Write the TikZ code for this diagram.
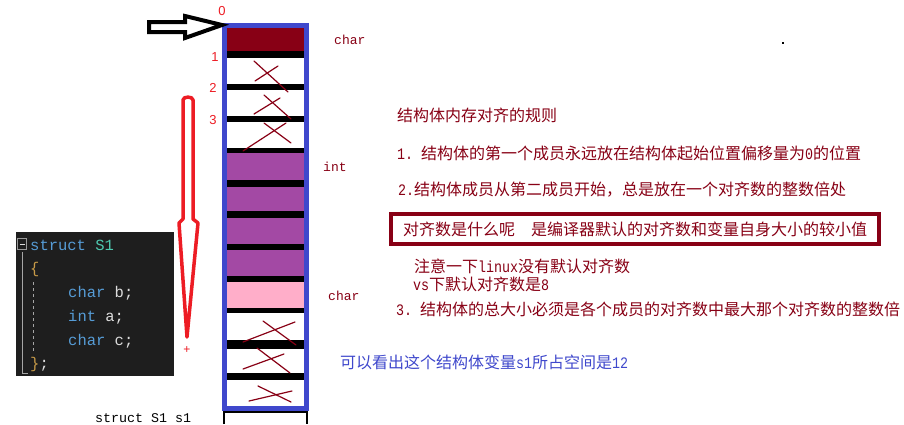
\documentclass[tikz,border=0pt]{standalone}
\usepackage{fontspec}
\newfontfamily\cjk{Noto Sans CJK SC}
\newfontfamily\mono{Liberation Mono}
\newfontfamily\monon[FakeStretch=0.833]{Liberation Mono}
\newfontfamily\lsans{Liberation Sans}
\definecolor{pdred}{HTML}{880015}
\definecolor{ppurple}{HTML}{A349A4}
\definecolor{ppink}{HTML}{FFAEC9}
\definecolor{pblue}{HTML}{3F48CC}
\definecolor{pred}{HTML}{ED1C24}
\definecolor{codebg}{HTML}{1E1E1E}
\definecolor{kw}{HTML}{569CD6}
\definecolor{typ}{HTML}{4EC9B0}
\definecolor{brace}{HTML}{C89B48}
\definecolor{plain}{HTML}{DCDCDC}
\newcommand\hw[1]{{\fontsize{16}{18}\monon #1}}
\tikzset{
  cjktext/.style={anchor=west, inner sep=0pt, font=\fontsize{16}{18}\cjk, text=pdred},
  numlab/.style={inner sep=0pt, font=\fontsize{13}{14}\lsans, text=pred},
  typelab/.style={anchor=west, inner sep=0pt, font=\fontsize{13}{14}\mono, text=pdred},
  codeline/.style={anchor=west, inner sep=0pt, font=\fontsize{15.5}{18}\mono, text=plain},
  band/.style={fill=black},
  cross/.style={pdred, line width=1.2pt, line cap=round},
}
\begin{document}
\begin{tikzpicture}[x=1pt,y=-1pt]
\fill[white] (0,0) rectangle (904,424);
\useasboundingbox (0,0) rectangle (904,424);

% memory column cells
\fill[pdred] (227,28) rectangle (304,51);
\fill[band] (227,51) rectangle (304,58);
\fill[band] (227,84) rectangle (304,90);
\fill[band] (227,116) rectangle (304,122);
\fill[band] (227,148) rectangle (304,153);
\fill[ppurple] (227,153) rectangle (304,180);
\fill[band] (227,180) rectangle (304,187);
\fill[ppurple] (227,187) rectangle (304,211);
\fill[band] (227,211) rectangle (304,218);
\fill[ppurple] (227,218) rectangle (304,244);
\fill[band] (227,244) rectangle (304,250);
\fill[ppurple] (227,250) rectangle (304,276);
\fill[band] (227,276) rectangle (304,282);
\fill[ppink] (227,282) rectangle (304,308);
\fill[band] (227,308) rectangle (304,313);
\fill[band] (227,340) rectangle (304,349);
\fill[band] (227,373) rectangle (304,380);

% crosses
\draw[cross] (254,61) -- (288,92); \draw[cross] (255,81) -- (278,66);
\draw[cross] (264,95) -- (291,119); \draw[cross] (254,114) -- (280,98);
\draw[cross] (264,123) -- (291,143); \draw[cross] (243,151) -- (286,123);
\draw[cross] (263,321) -- (296,345); \draw[cross] (243,342) -- (295,322);
\draw[cross] (257,348) -- (290,373); \draw[cross] (243,369) -- (284,354);
\draw[cross] (258,386) -- (291,402); \draw[cross] (249,401) -- (292,391);

% blue border
\draw[pblue, line width=5pt] (224.5,25.5) rectangle (306.5,408.5);
\coordinate (coltop) at (222,25);

% bottom variable box
\draw[black, line width=1.2pt] (224,424) -- (224,412) -- (307,412) -- (307,424);

% offsets
\node[numlab] (n0) at (222,11) {0};
\node[numlab] (n1) at (215,57) {1};
\node[numlab] (n2) at (213,88) {2};
\node[numlab] (n3) at (213,120) {3};

% type labels
\node[typelab] (lc1) at (334,40) {char};
\node[typelab] (li) at (323,167) {int};
\node[typelab] (lc2) at (328,296) {char};

% black hollow arrow
\draw[black, line width=4pt, line join=miter]
  (149,22) -- (185,22) -- (185,16) -- (coltop) -- (185,38) -- (185,32) -- (149,32) -- cycle;

% red hollow arrow
\draw[pred, line width=3.5pt, line join=round]
  (183,219) -- (183,100) to[out=90,in=90] (193,100) -- (193,219) -- (198,223)
  -- (187,337) -- (179,223) -- cycle;
\node[inner sep=0pt, font=\fontsize{12}{12}\lsans, text=pred] (plus) at (187,350) {+};

% code box
\fill[codebg] (16,232) rectangle (174,376);
\draw[gray!80, line width=0.8pt] (17.5,238.5) rectangle (26.5,249.5);
\draw[plain, line width=1pt] (19.5,244) -- (24.5,244);
\draw[gray!70, line width=1pt] (22,252) -- (22,373) -- (28,373);
\draw[gray!70, line width=1pt, dash pattern=on 3pt off 3pt] (33,282) -- (33,352);
\node[codeline] (c1) at (30,245) {\textcolor{kw}{struct} \textcolor{typ}{S1}};
\node[codeline] (c2) at (30,269) {\textcolor{brace}{\{}};
\node[codeline] (c3) at (68,293) {\textcolor{kw}{char} b;};
\node[codeline] (c4) at (68,317) {\textcolor{kw}{int} a;};
\node[codeline] (c5) at (68,341) {\textcolor{kw}{char} c;};
\node[codeline] (c6) at (30,364) {\textcolor{brace}{\}};};

% variable name
\node[anchor=west, inner sep=0pt, font=\fontsize{13.33}{16}\mono, text=black] (var) at (95,418) {struct S1 s1};

% rules text
\node[cjktext] (title) at (397,115) {结构体内存对齐的规则};
\node[cjktext] (r1) at (397,153) {\hw{1.}\hspace*{8pt}结构体的第一个成员永远放在结构体起始位置偏移量为\hw{0}的位置};
\node[cjktext] (r2) at (398,190) {\hw{2.}结构体成员从第二成员开始，总是放在一个对齐数的整数倍处};
\node[draw=pdred, line width=4pt, minimum width=488pt, minimum height=30pt, inner sep=0pt,
      font=\fontsize{16}{18}\cjk, text=pdred] (note) at (635,229)
      {对齐数是什么呢\hspace*{16pt}是编译器默认的对齐数和变量自身大小的较小值};
\node[cjktext] (m1) at (414,266) {注意一下\hw{linux}没有默认对齐数};
\node[cjktext] (m2) at (413,284) {\hw{vs}下默认对齐数是\hw{8}};
\node[cjktext] (r3) at (396,309) {\hw{3.}\hspace*{8pt}结构体的总大小必须是各个成员的对齐数中最大那个对齐数的整数倍};
\node[cjktext, text=pblue] (res) at (340,362) {可以看出这个结构体变量\hw{s1}所占空间是\hw{12}};

% small dot
\fill[black] (782,42) rectangle (784,44);
\end{tikzpicture}
\end{document}
